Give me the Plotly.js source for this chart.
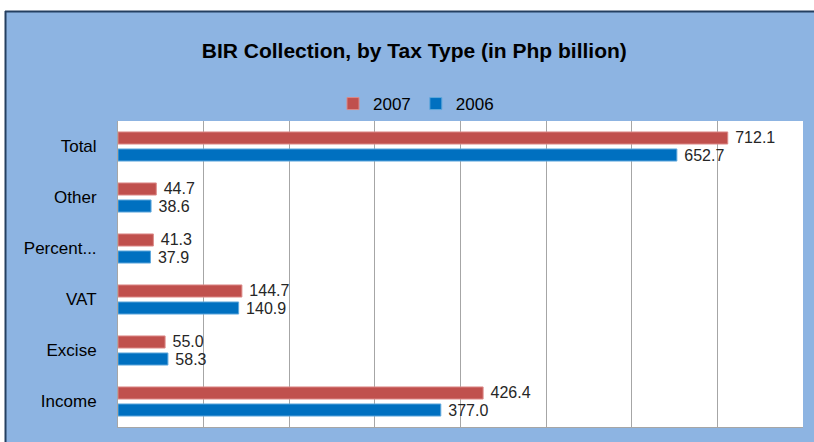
<!DOCTYPE html>
<html>
<head>
<meta charset="utf-8">
<script src="https://cdn.plot.ly/plotly-3.0.1.min.js"></script>
<style>html,body{margin:0;padding:0;background:#fff;}#chart{width:814px;height:442px;}</style>
</head>
<body>
<div id="chart"></div>
<script>
var categories = ["Income", "Excise", "VAT", "Percent...", "Other", "Total"];
var values2007 = [426.4, 55.0, 144.7, 41.3, 44.7, 712.1];
var values2006 = [377.0, 58.3, 140.9, 37.9, 38.6, 652.7];
var seriesNames = ["2007", "2006"];

var FONT = "'Liberation Sans', Arial, sans-serif";

var traces = [
  {
    type: "bar", orientation: "h", name: seriesNames[1],
    y: categories, x: values2006,
    marker: {color: "#0070C0", line: {color: "#5FA8DC", width: 1}},
    texttemplate: "\u00a0%{x:.1f}", textposition: "outside", constraintext: "none",
    textfont: {family: FONT, size: 16, color: "#262626"},
    cliponaxis: false, hoverinfo: "x+y+name"
  },
  {
    type: "bar", orientation: "h", name: seriesNames[0],
    y: categories, x: values2007,
    marker: {color: "#C0504D", line: {color: "#DC8A88", width: 1}},
    texttemplate: "\u00a0%{x:.1f}", textposition: "outside", constraintext: "none",
    textfont: {family: FONT, size: 16, color: "#262626"},
    cliponaxis: false, hoverinfo: "x+y+name"
  }
];

var W = 814, H = 442, L = 118, R = 11, T = 121, B = 15;
var pw = W - L - R, ph = H - T - B;
function px(x) { return (x - L) / pw; }
function py(y) { return (H - B - y) / ph; }

var layout = {
  width: W, height: H,
  margin: {l: L, r: R, t: T, b: B, pad: 0},
  paper_bgcolor: "#8DB4E2",
  plot_bgcolor: "#FFFFFF",
  font: {family: FONT, color: "#000"},
  title: {
    text: "<b>BIR Collection, by Tax Type (in Php billion)</b>",
    font: {family: FONT, size: 21, color: "#000"},
    x: 0.509, xanchor: "center", xref: "container",
    y: 1 - 51 / H, yanchor: "middle", yref: "container"
  },
  barmode: "group",
  bargap: 0.333,
  bargroupgap: 0.29,
  showlegend: true,
  legend: {
    orientation: "h", traceorder: "reversed",
    x: px(333), xanchor: "left", y: py(104), yanchor: "middle",
    bgcolor: "rgba(0,0,0,0)", itemwidth: 30,
    font: {family: FONT, size: 17, color: "#000"}
  },
  xaxis: {
    range: [0, 800], dtick: 100, tick0: 0,
    showgrid: true, gridcolor: "#A6A6A6", gridwidth: 1,
    showticklabels: false, ticks: "",
    showline: true, linecolor: "#A6A6A6", linewidth: 1,
    zeroline: false, fixedrange: true
  },
  yaxis: {
    type: "category", categoryorder: "array", categoryarray: categories,
    showgrid: false, ticks: "", ticklabelstandoff: 17,
    showline: true, linecolor: "#A6A6A6", linewidth: 1,
    tickfont: {family: FONT, size: 17, color: "#000"},
    fixedrange: true
  },
  shapes: [
    {type: "rect", xref: "paper", yref: "paper", layer: "below",
     x0: px(-20), x1: px(W + 20), y0: py(11), y1: py(-20),
     fillcolor: "#FFFFFF", line: {width: 0}},
    {type: "rect", xref: "paper", yref: "paper", layer: "below",
     x0: px(-20), x1: px(5), y0: py(H + 20), y1: py(-20),
     fillcolor: "#FFFFFF", line: {width: 0}},
    {type: "line", xref: "paper", yref: "paper", layer: "above",
     x0: px(5), x1: px(W + 20), y0: py(11.5), y1: py(11.5),
     line: {color: "#243F60", width: 2}},
    {type: "line", xref: "paper", yref: "paper", layer: "above",
     x0: px(5.5), x1: px(5.5), y0: py(11), y1: py(H + 20),
     line: {color: "#243F60", width: 2}}
  ]
};

Plotly.newPlot("chart", traces, layout, {displayModeBar: false, staticPlot: true});
</script>
</body>
</html>
